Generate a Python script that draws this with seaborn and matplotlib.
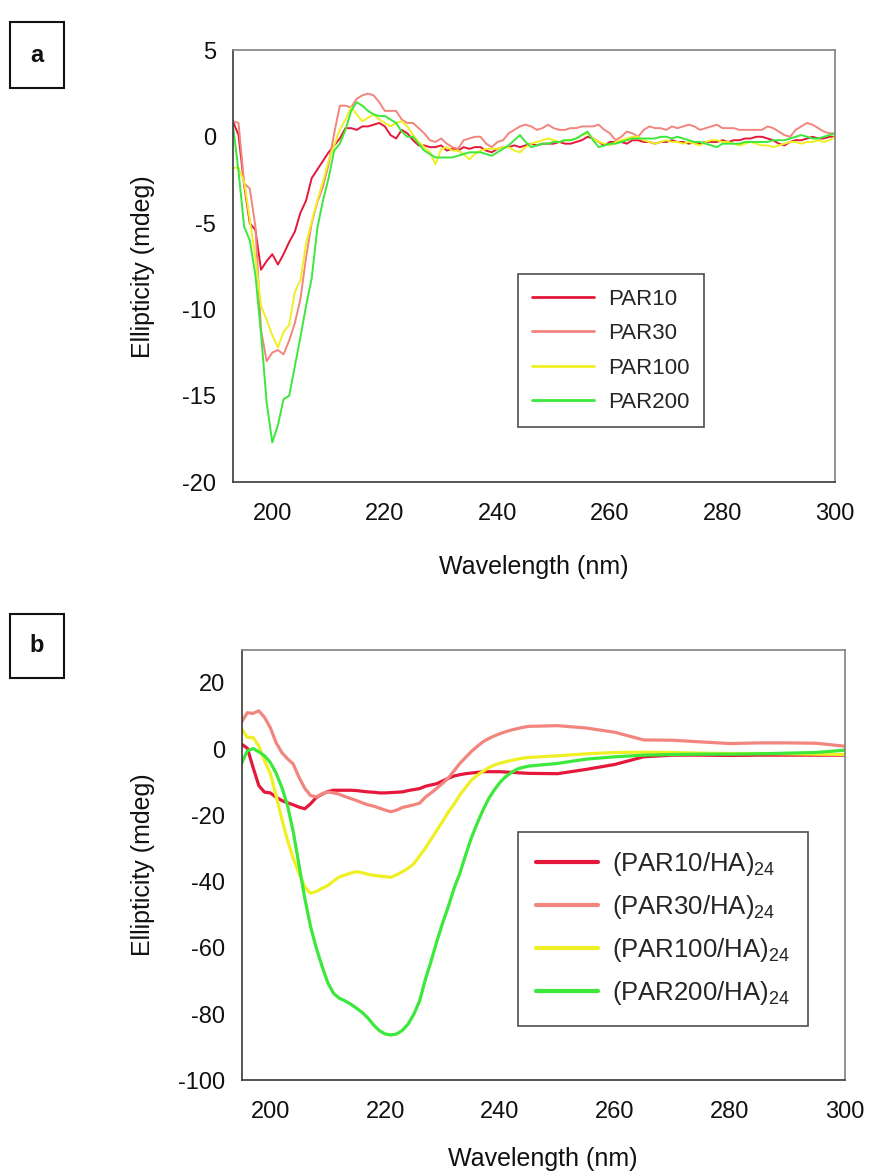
import numpy as np
import pandas as pd
import matplotlib
matplotlib.use("Agg")
import matplotlib.pyplot as plt
from matplotlib.patches import Rectangle
import seaborn as sns

# ---- panel a: free PAR peptides ----
WAVE_A = list(range(193, 301))
PAR10 = [
    0.9, 0.1, -2.8, -5.0, -5.4, -7.7, -7.2, -6.8, -7.4, -6.8,
    -6.1, -5.5, -4.4, -3.7, -2.4, -1.9, -1.4, -0.9, -0.5, -0.1,
    0.5, 0.5, 0.4, 0.6, 0.6, 0.7, 0.8, 0.6, 0.1, -0.1,
    0.4, 0.2, -0.2, -0.5, -0.5, -0.6, -0.6, -0.5, -0.8, -0.7,
    -0.8, -0.6, -0.7, -0.6, -0.6, -0.8, -0.9, -0.7, -0.6, -0.6,
    -0.5, -0.6, -0.5, -0.4, -0.5, -0.4, -0.4, -0.4, -0.3, -0.4,
    -0.4, -0.3, -0.2, 0.0, -0.1, -0.3, -0.5, -0.3, -0.3, -0.3,
    -0.4, -0.2, -0.2, -0.3, -0.3, -0.4, -0.3, -0.3, -0.2, -0.3,
    -0.3, -0.4, -0.3, -0.4, -0.3, -0.3, -0.3, -0.2, -0.3, -0.2,
    -0.2, -0.1, -0.1, 0.0, 0.0, -0.1, -0.2, -0.4, -0.5, -0.3,
    -0.2, -0.2, -0.1, 0.0, -0.1, -0.1, 0.0, 0.0,
]
PAR30 = [
    0.9, 0.8, -2.7, -3.0, -5.2, -11.2, -13.0, -12.5, -12.35, -12.6,
    -11.8, -10.8, -9.4, -7.0, -5.0, -3.8, -2.9, -1.6, 0.2, 1.8,
    1.8, 1.7, 2.2, 2.4, 2.5, 2.4, 2.0, 1.5, 1.5, 1.5,
    1.0, 0.8, 0.8, 0.5, 0.2, -0.2, -0.3, -0.1, -0.4, -0.6,
    -0.7, -0.2, -0.1, 0.0, 0.0, -0.4, -0.6, -0.3, -0.2, 0.2,
    0.4, 0.6, 0.7, 0.6, 0.4, 0.5, 0.7, 0.5, 0.4, 0.4,
    0.5, 0.5, 0.6, 0.6, 0.6, 0.7, 0.4, 0.2, -0.2, 0.0,
    0.3, 0.2, 0.0, 0.4, 0.6, 0.5, 0.5, 0.4, 0.6, 0.5,
    0.6, 0.7, 0.6, 0.4, 0.5, 0.6, 0.7, 0.5, 0.5, 0.5,
    0.4, 0.4, 0.4, 0.4, 0.4, 0.6, 0.5, 0.3, 0.1, 0.0,
    0.4, 0.6, 0.8, 0.7, 0.5, 0.3, 0.2, 0.2,
]
PAR100 = [
    -1.8, -1.8, -2.6, -4.8, -7.0, -9.8, -10.6, -11.5, -12.2, -11.3,
    -10.9, -9.0, -8.3, -6.2, -4.9, -3.7, -2.6, -1.4, -0.5, 0.4,
    1.0, 1.7, 1.3, 0.9, 1.1, 1.3, 1.0, 0.8, 0.6, 0.8,
    0.9, 0.6, 0.1, -0.3, -0.6, -0.9, -1.6, -0.7, -0.6, -0.8,
    -0.8, -1.0, -1.3, -1.0, -0.8, -0.7, -0.7, -0.7, -0.6, -0.6,
    -0.8, -0.9, -0.6, -0.4, -0.3, -0.2, -0.1, -0.2, -0.3, -0.2,
    -0.2, -0.1, 0.1, 0.2, -0.1, -0.3, -0.4, -0.5, -0.3, -0.2,
    -0.1, 0.0, 0.0, -0.2, -0.3, -0.4, -0.3, -0.2, -0.3, -0.3,
    -0.4, -0.3, -0.4, -0.5, -0.3, -0.2, -0.2, -0.3, -0.3, -0.4,
    -0.5, -0.4, -0.3, -0.4, -0.5, -0.5, -0.6, -0.5, -0.4, -0.3,
    -0.3, -0.4, -0.3, -0.3, -0.2, -0.3, -0.2, 0.0,
]
PAR200 = [
    0.7, -2.0, -5.2, -6.0, -8.0, -11.4, -15.4, -17.7, -16.7, -15.2,
    -15.0, -13.3, -11.6, -9.8, -8.2, -5.3, -3.7, -2.4, -0.8, -0.4,
    0.4, 1.5, 2.0, 1.8, 1.5, 1.3, 1.2, 1.2, 1.0, 0.8,
    0.3, 0.0, 0.0, -0.4, -0.8, -1.0, -1.2, -1.2, -1.2, -1.2,
    -1.1, -1.0, -0.9, -0.9, -0.9, -1.0, -1.1, -0.9, -0.7, -0.5,
    -0.2, 0.1, -0.3, -0.6, -0.5, -0.4, -0.4, -0.3, -0.3, -0.2,
    -0.2, -0.1, 0.1, 0.3, -0.2, -0.6, -0.5, -0.4, -0.4, -0.3,
    -0.2, -0.1, -0.1, -0.1, -0.1, -0.1, 0.0, 0.0, -0.1, 0.0,
    -0.1, -0.2, -0.3, -0.3, -0.4, -0.5, -0.6, -0.4, -0.4, -0.4,
    -0.4, -0.3, -0.3, -0.3, -0.3, -0.3, -0.2, -0.2, -0.2, -0.1,
    0.0, 0.1, 0.0, -0.1, -0.1, 0.0, 0.1, 0.2,
]
LABELS_A = ["PAR10", "PAR30", "PAR100", "PAR200"]

# ---- panel b: (PAR/HA)24 multilayers ----
WAVE_B = list(range(195, 245)) + list(range(245, 301, 5))
HA10 = [
    1.5, 0.3, -5.5, -11.0, -13.0, -13.2, -14.5, -15.5, -16.2, -16.8,
    -17.5, -18.0, -16.5, -14.6, -13.6, -12.8, -12.4, -12.4, -12.4, -12.4,
    -12.5, -12.7, -12.9, -13.0, -13.2, -13.2, -13.1, -13.0, -12.9, -12.5,
    -12.2, -11.9, -11.2, -10.8, -10.4, -9.6, -8.8, -8.1, -7.7, -7.4,
    -7.2, -7.0, -6.8, -6.8, -6.8, -6.8, -6.9, -7.0, -7.1, -7.2,
    -7.3, -7.4, -6.1, -4.6, -2.3, -1.8, -1.8, -1.9, -1.8, -1.8, -1.8, -1.8,
]
HA30 = [
    8.2, 11.0, 10.8, 11.6, 9.6, 6.5, 2.0, -1.0, -2.9, -4.5,
    -8.5, -11.8, -14.0, -14.4, -13.5, -12.9, -13.2, -13.6, -14.3, -14.9,
    -15.5, -16.2, -16.8, -17.2, -17.8, -18.4, -18.9, -18.4, -17.6, -17.2,
    -16.8, -16.3, -14.5, -13.2, -11.8, -10.3, -8.7, -6.5, -4.3, -2.5,
    -0.7, 0.8, 2.2, 3.2, 4.0, 4.7, 5.3, 5.8, 6.2, 6.6,
    6.9, 7.1, 6.4, 5.1, 2.8, 2.7, 2.2, 1.7, 1.9, 1.9, 1.8, 0.9,
]
HA100 = [
    6.2, 3.6, 3.5, 1.0, -3.5, -7.3, -14.0, -21.0, -27.5, -33.0,
    -37.5, -41.5, -43.5, -43.0, -42.0, -41.2, -39.8, -38.6, -38.0, -37.4,
    -37.0, -37.3, -37.8, -38.1, -38.3, -38.5, -38.7, -37.9, -37.0, -36.0,
    -34.6, -32.2, -29.9, -27.2, -24.5, -21.8, -19.0, -16.6, -13.8, -11.6,
    -9.4, -7.9, -6.7, -5.6, -4.8, -4.2, -3.8, -3.4, -3.0, -2.7,
    -2.5, -2.0, -1.4, -1.0, -0.9, -1.0, -1.2, -1.3, -1.3, -1.4, -1.5, -1.6,
]
HA200 = [
    -4.3, -0.5, 0.2, -0.8, -2.0, -4.0, -7.2, -11.5, -17.0, -25.0,
    -35.0, -45.0, -53.5, -60.0, -65.5, -70.5, -73.7, -75.2, -76.0, -77.0,
    -78.2, -79.5, -81.2, -83.3, -85.0, -86.0, -86.3, -86.0, -84.9, -83.0,
    -80.0, -76.0, -69.5, -64.0, -58.0, -52.5, -47.5, -42.0, -37.5, -32.0,
    -26.8, -22.5, -18.5, -15.0, -12.3, -10.0, -8.3, -7.0, -6.0, -5.5,
    -5.1, -4.3, -3.0, -2.3, -1.8, -1.6, -1.5, -1.5, -1.4, -1.2, -1.0, -0.3,
]
LABELS_B = [r"(PAR10/HA)$_{24}$", r"(PAR30/HA)$_{24}$",
            r"(PAR100/HA)$_{24}$", r"(PAR200/HA)$_{24}$"]

LINE_COLORS = ["#E5173A", "#F2857E", "#EEF023", "#3BE83B"]
AXIS_DARK = "#3A3A3A"
AXIS_GREY = "#808080"
FONT = ["Liberation Sans", "DejaVu Sans"]

sns.set_theme(style="white")
plt.rcParams["font.family"] = FONT
plt.rcParams["axes.unicode_minus"] = False
plt.rcParams["mathtext.fontset"] = "custom"
plt.rcParams["mathtext.rm"] = "Liberation Sans"
plt.rcParams["mathtext.it"] = "Liberation Sans"
plt.rcParams["mathtext.default"] = "regular"


def long_form(wave, series, labels):
    frames = [pd.DataFrame({"wavelength": wave, "ellipticity": vals, "sample": lbl})
              for vals, lbl in zip(series, labels)]
    return pd.concat(frames, ignore_index=True)


def style_ax(ax):
    ax.set_facecolor("white")
    for side in ("top", "right"):
        ax.spines[side].set_color(AXIS_GREY)
        ax.spines[side].set_linewidth(1.2)
    for side in ("left", "bottom"):
        ax.spines[side].set_color(AXIS_DARK)
        ax.spines[side].set_linewidth(1.2)
    ax.tick_params(direction="out", length=6, width=1.1, color=AXIS_DARK,
                   labelcolor="#111111", labelsize=17, pad=6)
    ax.tick_params(axis="x", pad=9)
    ax.grid(False)


def panel_box(fig, y_top, y_bot, letter):
    W, H = 869, 1173
    x0, x1 = 10, 64
    fig.patches.append(Rectangle((x0 / W, 1 - y_bot / H), (x1 - x0) / W, (y_bot - y_top) / H,
                                 transform=fig.transFigure, fill=False,
                                 edgecolor="#111111", linewidth=1.5))
    fig.text((x0 + x1) / 2 / W, 1 - (y_top + y_bot) / 2 / H, letter,
             ha="center", va="center", fontsize=17, fontweight="bold", color="#111111")


fig = plt.figure(figsize=(8.69, 11.73), dpi=100, facecolor="white")
ax_a = fig.add_axes([0.268, 0.589, 0.693, 0.368])
ax_b = fig.add_axes([0.278, 0.079, 0.694, 0.367])

df_a = long_form(WAVE_A, [PAR10, PAR30, PAR100, PAR200], LABELS_A)
sns.lineplot(data=df_a, x="wavelength", y="ellipticity", hue="sample",
             palette=dict(zip(LABELS_A, LINE_COLORS)), linewidth=1.4,
             estimator=None, sort=False, ax=ax_a)
style_ax(ax_a)
ax_a.set_xlim(193, 300)
ax_a.set_ylim(-20, 5)
ax_a.set_xticks([200, 220, 240, 260, 280, 300])
ax_a.set_yticks([-20, -15, -10, -5, 0, 5])
ax_a.set_xlabel("Wavelength (nm)", fontsize=18, color="#111111", labelpad=22)
ax_a.set_ylabel("Ellipticity (mdeg)", fontsize=18, color="#111111")
ax_a.yaxis.set_label_coords(-0.13, 0.5)
h, l = ax_a.get_legend_handles_labels()
leg = ax_a.legend(h, l, loc="upper left", bbox_to_anchor=(0.473, 0.481),
                  borderaxespad=0, frameon=True, fancybox=False, edgecolor="#222222",
                  fontsize=16, handlelength=2.8, labelspacing=0.6, borderpad=0.65,
                  handletextpad=0.6)
leg.get_frame().set_linewidth(1.2)
for line in leg.get_lines():
    line.set_linewidth(2)

df_b = long_form(WAVE_B, [HA10, HA30, HA100, HA200], LABELS_B)
sns.lineplot(data=df_b, x="wavelength", y="ellipticity", hue="sample",
             palette=dict(zip(LABELS_B, LINE_COLORS)), linewidth=2.3,
             estimator=None, sort=False, ax=ax_b)
style_ax(ax_b)
ax_b.set_xlim(195, 300)
ax_b.set_ylim(-100, 30)
ax_b.set_xticks([200, 220, 240, 260, 280, 300])
ax_b.set_yticks([-100, -80, -60, -40, -20, 0, 20])
ax_b.set_xlabel("Wavelength (nm)", fontsize=18, color="#111111", labelpad=17)
ax_b.set_ylabel("Ellipticity (mdeg)", fontsize=18, color="#111111")
ax_b.yaxis.set_label_coords(-0.144, 0.5)
h, l = ax_b.get_legend_handles_labels()
leg = ax_b.legend(h, l, loc="upper left", bbox_to_anchor=(0.458, 0.577),
                  borderaxespad=0, frameon=True, fancybox=False, edgecolor="#222222",
                  fontsize=18.5, handlelength=2.4, labelspacing=0.58, borderpad=0.72,
                  handletextpad=0.55)
leg.get_frame().set_linewidth(1.2)
for line in leg.get_lines():
    line.set_linewidth(3)

panel_box(fig, 22, 88, "a")
panel_box(fig, 614, 678, "b")

fig.savefig("out.png", dpi=100, facecolor="white")
